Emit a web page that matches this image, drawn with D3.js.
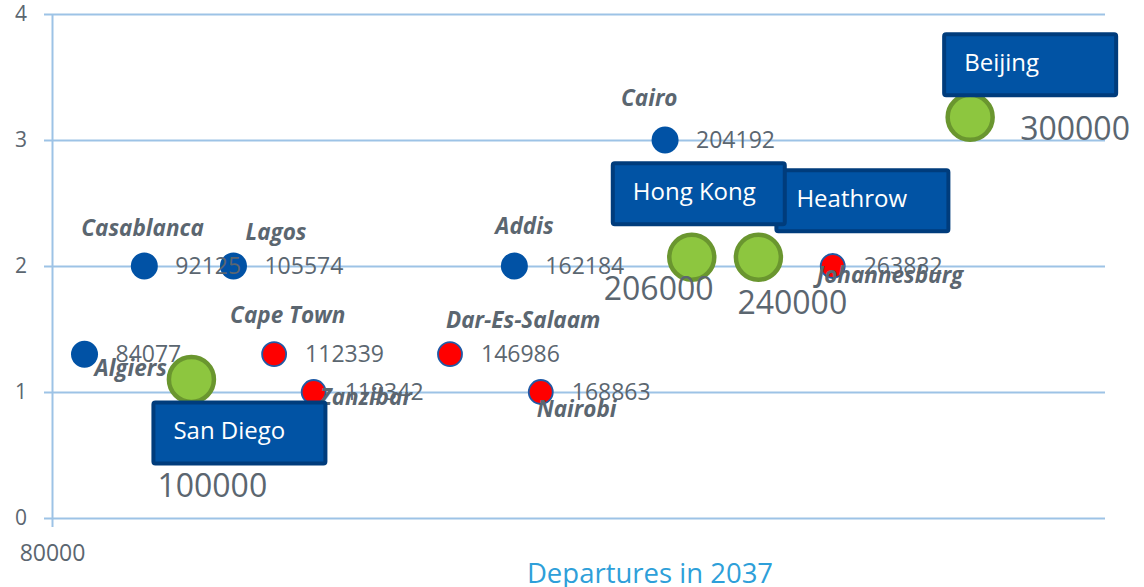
<!DOCTYPE html>
<html>
<head>
<meta charset="utf-8">
<script src="https://cdnjs.cloudflare.com/ajax/libs/d3/7.8.5/d3.min.js"></script>
<style>
  body { margin: 0; background: #fff; }
  text { font-family: "Open Sans", "Noto Sans", sans-serif; }
</style>
</head>
<body>
<svg id="chart" width="1144" height="587"></svg>
<script>
// African airports: departures in 2037 vs. rank
var cities = ["Algiers", "Casablanca", "Lagos", "Cape Town", "Zanzibar", "Dar-Es-Salaam", "Addis", "Nairobi", "Cairo", "Johannesburg"]
var departures = [84077, 92125, 105574, 112339, 119342, 146986, 162184, 168863, 204192, 263832]
var rank = [1.3, 2, 2, 1.3, 1, 1.3, 2, 1, 3, 2]
var group = ["north", "north", "north", "south", "south", "south", "north", "south", "north", "south"]

// benchmark airports (green bubbles)
var benchNames = ["San Diego", "Hong Kong", "Heathrow", "Beijing"]
var benchX = [99000, 212700, 235500, 325500]
var benchY = [1.1, 2.07, 2.07, 3.18]
var benchLabel = [100000, 206000, 240000, 300000]

var yTicks = [0, 1, 2, 3, 4]
var xTicks = [80000]

//layout of the hand placed labels (offsets from the point)
var nameOffset = {
  "Algiers": [10, 22], "Casablanca": [-63, -30], "Lagos": [12, -26], "Cape Town": [-44, -31],
  "Zanzibar": [6, 13], "Dar-Es-Salaam": [-4, -26], "Addis": [-19, -32], "Nairobi": [-4, 25],
  "Cairo": [-44, -34], "Johannesburg": [-16, 17]
}
var boxOffset = {"San Diego": [-40, 21], "Hong Kong": [-81, -96], "Heathrow": [16, -89], "Beijing": [-28, -85]}
var benchValOffset = {"San Diego": [-34, 118], "Hong Kong": [-88, 43], "Heathrow": [-21, 57], "Beijing": [50, 23]}

var grid = "#9dc3e6"
var gray = "#5b6670"
var colors = {north: "#0152a5", south: "#ff0000"}

var svg = d3.select("#chart")

var x = d3.scaleLog().base(5).domain([80000, 400000]).range([52, 1105])
var y = d3.scaleLinear().domain([0, 4]).range([518, 14])

// gridlines
svg.append("g")
    .attr("transform", "translate(44,0)")
    .call(d3.axisRight(y).tickValues(yTicks).tickSize(1105 - 44).tickFormat(""))
    .call(function(g){ g.select(".domain").remove() })
    .selectAll("line").attr("stroke", grid).attr("stroke-width", 2);

// y axis
var yAxis = svg.append("g")
    .attr("transform", "translate(52,0)")
    .call(d3.axisLeft(y).tickValues(yTicks).tickSize(0).tickPadding(25).tickSizeOuter(0).tickFormat(d3.format("d")))
yAxis.select(".domain").attr("stroke", grid).attr("stroke-width", 2)
yAxis.selectAll("text").attr("fill", gray).attr("font-size", "21px")

// x axis (only the first tick)
var xAxis = svg.append("g")
    .attr("transform", "translate(0,518)")
    .call(d3.axisBottom(x).tickValues(xTicks).tickSize(9).tickPadding(18).tickFormat(d3.format("d")))
xAxis.select(".domain").remove()
xAxis.selectAll("line").attr("stroke", grid).attr("stroke-width", 2)
xAxis.selectAll("text").attr("fill", gray).attr("font-size", "23px")

svg.append("text")
    .attr("x", 650)
    .attr("y", 583)
    .attr("text-anchor", "middle")
    .attr("fill", "#2e9fd9")
    .attr("font-size", "27.5px")
    .text("Departures in 2037");

var pts = cities.map(function(c, i){
  return {name: c, v: departures[i], r: rank[i], g: group[i]}
})

svg.append("g").selectAll("circle")
    .data(pts)
    .enter().append("circle")
    .attr("cx", function(d){ return x(d.v) })
    .attr("cy", function(d){ return y(d.r) })
    .attr("r", function(d){ return d.g == "north" ? 13.5 : 12 })
    .attr("fill", function(d){ return colors[d.g] })
    .attr("stroke", "#1f5aa6")
    .attr("stroke-width", function(d){ return d.g == "north" ? 0 : 1.8 });

svg.append("g").selectAll("text")
    .data(pts)
    .enter().append("text")
    .attr("x", function(d){ return x(d.v) + 31 })
    .attr("y", function(d){ return y(d.r) + 8 })
    .attr("fill", gray)
    .attr("font-size", "23px")
    .text(function(d){ return d.v });

svg.append("g").selectAll("text")
    .data(pts)
    .enter().append("text")
    .attr("x", function(d){ return x(d.v) + nameOffset[d.name][0] })
    .attr("y", function(d){ return y(d.r) + nameOffset[d.name][1] })
    .attr("fill", gray)
    .attr("font-size", "22.5px")
    .attr("font-weight", "bold")
    .attr("font-style", "italic")
    .text(function(d){ return d.name });

// benchmark airports
var bench = benchNames.map(function(n, i){
  return {name: n, v: benchX[i], r: benchY[i], label: benchLabel[i]}
})

svg.append("g").selectAll("circle")
    .data(bench)
    .enter().append("circle")
    .attr("cx", function(d){ return x(d.v) })
    .attr("cy", function(d){ return y(d.r) })
    .attr("r", 22.5)
    .attr("fill", "#8dc63f")
    .attr("stroke", "#6a962f")
    .attr("stroke-width", 4.5);

// Heathrow drawn before Hong Kong so Hong Kong sits on top
var boxOrder = ["San Diego", "Heathrow", "Hong Kong", "Beijing"]
var boxes = svg.append("g").selectAll("g")
    .data(boxOrder.map(function(n){ return bench[benchNames.indexOf(n)] }))
    .enter().append("g")
    .attr("transform", function(d){
      return "translate(" + (x(d.v) + boxOffset[d.name][0]) + "," + (y(d.r) + boxOffset[d.name][1]) + ")"
    });

boxes.append("rect")
    .attr("x", 2)
    .attr("y", 2)
    .attr("width", 172)
    .attr("height", 61)
    .attr("rx", 2)
    .attr("fill", "#0153a4")
    .attr("stroke", "#003c7c")
    .attr("stroke-width", 4);

boxes.append("text")
    .attr("x", 22)
    .attr("y", 39)
    .attr("fill", "#fff")
    .attr("font-size", "24px")
    .text(function(d){ return d.name });

svg.append("g").selectAll("text")
    .data(bench)
    .enter().append("text")
    .attr("x", function(d){ return x(d.v) + benchValOffset[d.name][0] })
    .attr("y", function(d){ return y(d.r) + benchValOffset[d.name][1] })
    .attr("fill", gray)
    .attr("font-size", "32px")
    .text(function(d){ return d.label });
</script>
</body>
</html>
